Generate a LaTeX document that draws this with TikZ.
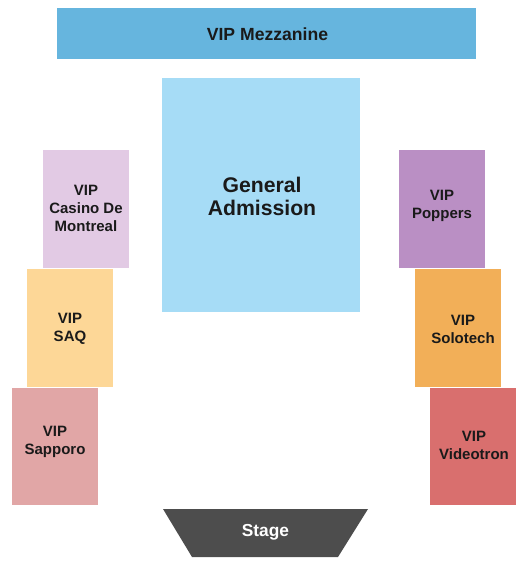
\documentclass[tikz,border=0pt]{standalone}
\usepackage{fontspec}
\setmainfont{Liberation Sans}
\definecolor{mezz}{HTML}{66B5DE}
\definecolor{ga}{HTML}{A6DCF6}
\definecolor{casino}{HTML}{E2CAE4}
\definecolor{saq}{HTML}{FDD797}
\definecolor{sapporo}{HTML}{E1A6A6}
\definecolor{poppers}{HTML}{BA8FC4}
\definecolor{solotech}{HTML}{F2AF58}
\definecolor{videotron}{HTML}{D96F6E}
\definecolor{stagec}{HTML}{4D4D4D}
\definecolor{txt}{HTML}{1A1A1A}
\tikzset{
  lbl/.style={font=\bfseries\fontsize{11.25}{13.5}\selectfont, text=txt, align=center},
}
\begin{document}
\begin{tikzpicture}[x=0.75pt,y=-0.75pt]
\useasboundingbox (0,0) rectangle (525,566);
% sections
\fill[mezz] (57,8) rectangle (476,59);
\fill[ga] (162,78) rectangle (360,312);
\fill[casino] (43,150) rectangle (129,268);
\fill[saq] (27,269) rectangle (113,387);
\fill[sapporo] (12,388) rectangle (98,505);
\fill[poppers] (399,150) rectangle (485,268);
\fill[solotech] (415,269) rectangle (501,387);
\fill[videotron] (430,388) rectangle (516,505);
\fill[stagec] (163,509) -- (368,509) -- (338,557) -- (192,557) -- cycle;
% labels
\node[lbl, font=\bfseries\fontsize{13.2}{15}\selectfont] (mz) at (267.5,34.5) {VIP Mezzanine};
\node[lbl, font=\bfseries\fontsize{15.9}{17.3}\selectfont] (gaL) at (262,196) {General\\Admission};
\node[lbl] (cs) at (86,208.5) {VIP\\Casino De\\Montreal};
\node[lbl] (sq) at (70,329) {VIP\\SAQ};
\node[lbl] (sp) at (55,442) {VIP\\Sapporo};
\node[lbl] (pp) at (442,206) {VIP\\Poppers};
\node[lbl] (st) at (463,329) {VIP\\Solotech};
\node[lbl] (vd) at (474,445) {VIP\\Videotron};
\node[lbl, text=white, font=\bfseries\fontsize{13}{15}\selectfont] (sg) at (265.5,532) {Stage};
\end{tikzpicture}
\end{document}
